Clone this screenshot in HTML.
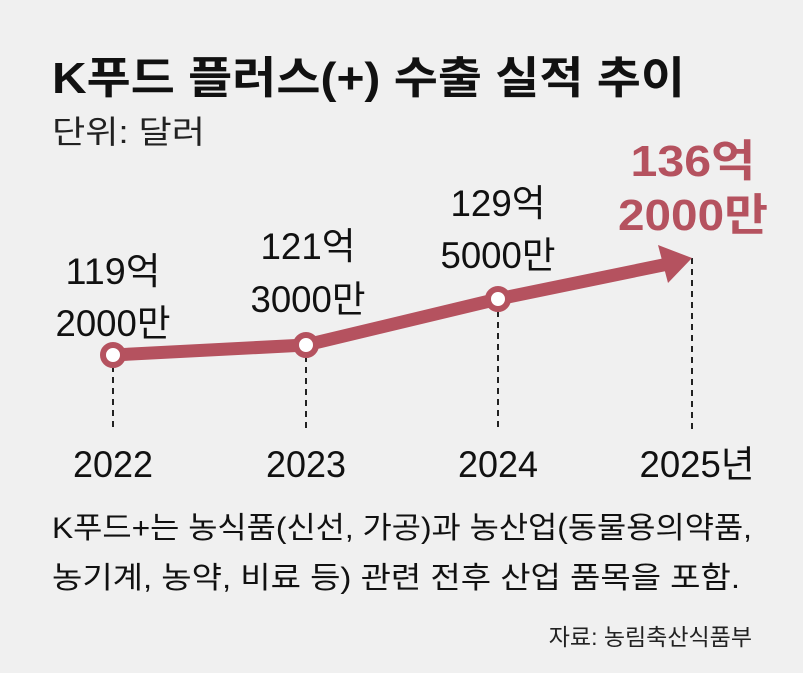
<!DOCTYPE html>
<html><head><meta charset="utf-8"><style>
html,body{margin:0;padding:0;background:#f0f0f0;}
svg{display:block;font-family:"Liberation Sans","Noto Sans CJK KR",sans-serif;}
</style></head><body>
<svg width="803" height="673" viewBox="0 0 803 673" xmlns="http://www.w3.org/2000/svg">
<rect width="803" height="673" fill="#f0f0f0"/>
<text x="52" y="93" font-size="44" font-weight="bold" textLength="633" lengthAdjust="spacingAndGlyphs" fill="#111">K푸드 플러스(+) 수출 실적 추이</text>
<text x="52" y="143" font-size="32" textLength="153" lengthAdjust="spacingAndGlyphs" fill="#222">단위: 달러</text>
<g stroke="#222" stroke-width="2" stroke-dasharray="6,5">
<line x1="113" y1="366" x2="113" y2="432"/>
<line x1="306" y1="356" x2="306" y2="432"/>
<line x1="498" y1="311" x2="498" y2="432"/>
<line x1="692" y1="258" x2="692" y2="432"/>
</g>
<polyline points="113,355 306,345 498,299 668,264" fill="none" stroke="#b5525f" stroke-width="13" stroke-linejoin="round"/>
<polygon points="692,258 658,245 668,283" fill="#b5525f"/>
<g fill="#fff" stroke="#b5525f" stroke-width="6">
<circle cx="113" cy="355" r="10"/>
<circle cx="306" cy="345" r="10"/>
<circle cx="498" cy="299" r="10"/>
</g>
<g font-size="37" fill="#111" text-anchor="middle" lengthAdjust="spacingAndGlyphs">
<text x="113" y="284" textLength="95" lengthAdjust="spacingAndGlyphs">119억</text>
<text x="113" y="336" textLength="115" lengthAdjust="spacingAndGlyphs">2000만</text>
<text x="308" y="259" textLength="95" lengthAdjust="spacingAndGlyphs">121억</text>
<text x="308" y="312" textLength="115" lengthAdjust="spacingAndGlyphs">3000만</text>
<text x="498" y="216" textLength="95" lengthAdjust="spacingAndGlyphs">129억</text>
<text x="498" y="268" textLength="115" lengthAdjust="spacingAndGlyphs">5000만</text>
<text x="113" y="477" textLength="80" lengthAdjust="spacingAndGlyphs">2022</text>
<text x="306" y="477" textLength="80" lengthAdjust="spacingAndGlyphs">2023</text>
<text x="498" y="477" textLength="80" lengthAdjust="spacingAndGlyphs">2024</text>
<text x="697" y="477" textLength="115" lengthAdjust="spacingAndGlyphs">2025년</text>
</g>
<g font-size="44" font-weight="bold" fill="#b5525f" text-anchor="middle">
<text x="693" y="176" textLength="125" lengthAdjust="spacingAndGlyphs">136억</text>
<text x="693" y="230" textLength="150" lengthAdjust="spacingAndGlyphs">2000만</text>
</g>
<text x="52" y="538" font-size="30" fill="#111" textLength="700" lengthAdjust="spacingAndGlyphs">K푸드+는 농식품(신선, 가공)과 농산업(동물용의약품,</text>
<text x="52" y="588" font-size="30" fill="#111" textLength="688" lengthAdjust="spacingAndGlyphs">농기계, 농약, 비료 등) 관련 전후 산업 품목을 포함.</text>
<text x="752" y="645" font-size="23" fill="#222" text-anchor="end">자료: 농림축산식품부</text>
</svg>
</body></html>
